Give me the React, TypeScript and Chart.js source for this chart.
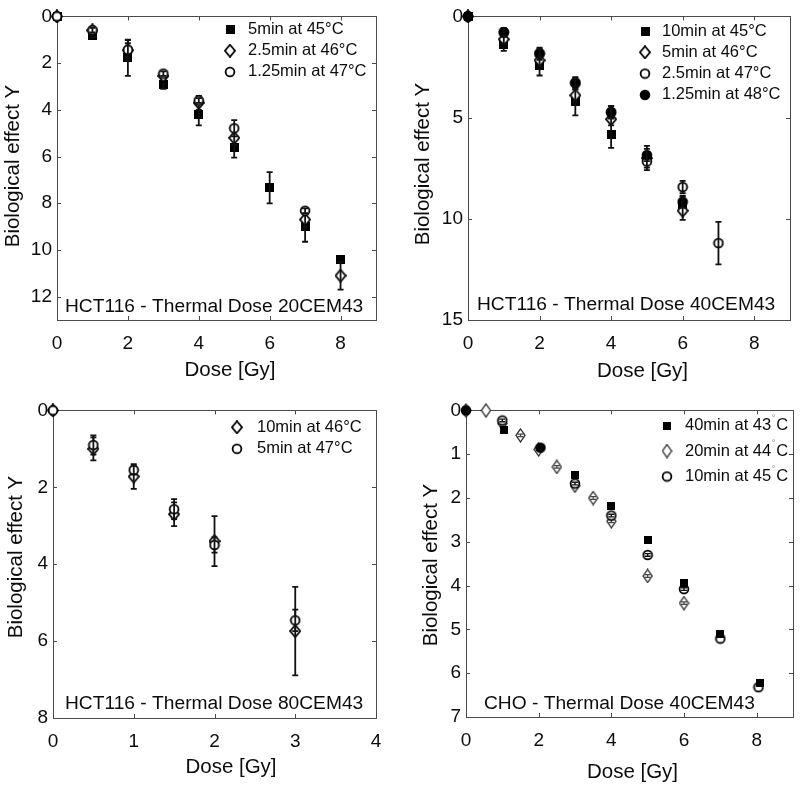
import React, { useEffect, useRef } from 'react';
import { Chart, registerables } from 'chart.js';

Chart.register(...registerables);

const FAMILY = '"Liberation Sans", Arial, Helvetica, sans-serif';
const INK = '#0c0c0c';
const FRAME = '#4a4a4a';

// ---------- Panel A: HCT116 - Thermal Dose 20CEM43 ----------
const A_X_TICKS = [0, 2, 4, 6, 8];
const A_Y_TICKS = [0, 2, 4, 6, 8, 10, 12];
const A_SQ_X = [0, 1, 2, 3, 4, 5, 6, 7, 8];
const A_SQ_Y = [0, 0.8, 1.78, 2.9, 4.2, 5.6, 7.34, 9.0, 10.4];
const A_SQ_E = [0, 0.1, 0.77, 0.2, 0.47, 0.45, 0.67, 0.65, 0];
const A_DI_X = [0, 1, 2, 3, 4, 5, 7, 8];
const A_DI_Y = [0, 0.6, 1.45, 2.55, 3.7, 5.2, 8.7, 11.1];
const A_DI_E = [0, 0, 0.3, 0, 0.3, 0.3, 0.3, 0.6];
const A_CI_X = [0, 1, 2, 3, 4, 5, 7];
const A_CI_Y = [0, 0.59, 1.43, 2.45, 3.6, 4.79, 8.32];
const A_CI_E = [0, 0.1, 0.43, 0.1, 0.1, 0.35, 0.1];

// ---------- Panel B: HCT116 - Thermal Dose 40CEM43 ----------
const B_X_TICKS = [0, 2, 4, 6, 8];
const B_Y_TICKS = [0, 5, 10, 15];
const B_SQ_X = [0, 1, 2, 3, 4, 5, 6];
const B_SQ_Y = [0, 1.4, 2.42, 4.19, 5.85, 7.0, 9.3];
const B_SQ_E = [0, 0.3, 0.5, 0.7, 0.65, 0.6, 0.4];
const B_DI_X = [0, 1, 2, 3, 4, 5, 6];
const B_DI_Y = [0, 1.13, 2.17, 3.9, 5.08, 7.0, 9.6];
const B_DI_E = [0, 0.2, 0.3, 0.3, 0.3, 0.3, 0.45];
const B_OC_X = [0, 1, 2, 3, 4, 5, 6, 7];
const B_OC_Y = [0, 0.8, 1.85, 3.3, 4.75, 7.17, 8.43, 11.2];
const B_OC_E = [0, 0.2, 0.3, 0.3, 0.3, 0.3, 0.3, 1.05];
const B_FC_X = [0, 1, 2, 3, 4, 5, 6];
const B_FC_Y = [0, 0.77, 1.82, 3.27, 4.72, 6.85, 9.16];
const B_FC_E = [0, 0.2, 0.2, 0.2, 0.3, 0.3, 0.3];

// ---------- Panel C: HCT116 - Thermal Dose 80CEM43 ----------
const C_X_TICKS = [0, 1, 2, 3, 4];
const C_Y_TICKS = [0, 2, 4, 6, 8];
const C_X = [0, 0.5, 1, 1.5, 2, 3];
const C_DI_Y = [0, 1.0, 1.72, 2.7, 3.4, 5.74];
const C_DI_E = [0, 0.3, 0.32, 0.31, 0.65, 1.15];
const C_CI_Y = [0, 0.9, 1.55, 2.57, 3.5, 5.46];
const C_CI_E = [0, 0.25, 0.12, 0.26, 0.2, 0.28];

// ---------- Panel D: CHO - Thermal Dose 40CEM43 ----------
const D_X_TICKS = [0, 2, 4, 6, 8];
const D_Y_TICKS = [0, 1, 2, 3, 4, 5, 6, 7];
const D_SQ_X = [1.05, 3.0, 4.0, 5.0, 6.0, 7.0, 8.1];
const D_SQ_Y = [0.44, 1.47, 2.19, 2.96, 3.94, 5.11, 6.23];
const D_DI_X = [0, 0.55, 1.0, 1.5, 2.0, 2.5, 3.0, 3.5, 4.0, 5.0, 6.0];
const D_DI_Y = [0, 0, 0.3, 0.57, 0.89, 1.29, 1.72, 2.0, 2.53, 3.78, 4.4];
const D_DI_E = [0, 0, 0.03, 0.03, 0.03, 0.03, 0.03, 0.03, 0.03, 0.03, 0.03];
const D_CI_X = [0, 1, 2.05, 3, 4, 5, 6, 7, 8.05];
const D_CI_Y = [0, 0.23, 0.85, 1.67, 2.4, 3.3, 4.08, 5.21, 6.32];
const D_CI_E = [0, 0.03, 0, 0.03, 0.03, 0.03, 0.03, 0, 0];
const D_CI_STYLE = ['fc', 'oc', 'fc', 'oc', 'oc', 'oc', 'oc', 'oc', 'oc'];

type Series = {
  label: string;
  marker: string;
  xs: number[];
  ys: number[];
  errs?: number[];
  errColor?: string;
  errWidth?: number;
  styles?: string[];
};

type Panel = {
  px: number;
  py: number;
  area: { l: number; r: number; t: number; b: number };
  xMax: number;
  yMax: number;
  xTicks: number[];
  yTicks: number[];
  series: Series[];
  legendOrder: number[];
  note: string;
  noteX: number;
  noteY: number;
  legend: { mx: number; tx: number; y0: number; dy: number; sup?: boolean };
  yTitle: { x: number; y: number };
  xTitle: { x: number; y: number };
};

const PANELS: Panel[] = [
  {
    px: 0, py: 0,
    area: { l: 57, r: 376, t: 11, b: 320 },
    xMax: 9, yMax: 13, xTicks: A_X_TICKS, yTicks: A_Y_TICKS,
    series: [
      { label: '5min at 45°C', marker: 'sq', xs: A_SQ_X, ys: A_SQ_Y, errs: A_SQ_E },
      { label: '2.5min at 46°C', marker: 'di', xs: A_DI_X, ys: A_DI_Y, errs: A_DI_E },
      { label: '1.25min at 47°C', marker: 'oc', xs: A_CI_X, ys: A_CI_Y, errs: A_CI_E },
    ],
    legendOrder: [0, 1, 2],
    note: 'HCT116 - Thermal Dose 20CEM43', noteX: 65, noteY: 311.5,
    legend: { mx: 230, tx: 248, y0: 29.5, dy: 21.2 },
    yTitle: { x: 13.5, y: 166 }, xTitle: { x: 230, y: 370 },
  },
  {
    px: 400, py: 0,
    area: { l: 68, r: 390, t: 10, b: 320 },
    xMax: 9, yMax: 15, xTicks: B_X_TICKS, yTicks: B_Y_TICKS,
    series: [
      { label: '10min at 45°C', marker: 'sq', xs: B_SQ_X, ys: B_SQ_Y, errs: B_SQ_E },
      { label: '5min at 46°C', marker: 'di', xs: B_DI_X, ys: B_DI_Y, errs: B_DI_E },
      { label: '2.5min at 47°C', marker: 'oc', xs: B_OC_X, ys: B_OC_Y, errs: B_OC_E },
      { label: '1.25min at 48°C', marker: 'fc', xs: B_FC_X, ys: B_FC_Y, errs: B_FC_E },
    ],
    legendOrder: [0, 1, 2, 3],
    note: 'HCT116 - Thermal Dose 40CEM43', noteX: 77, noteY: 310,
    legend: { mx: 245, tx: 262, y0: 31, dy: 21.3 },
    yTitle: { x: 23.5, y: 164 }, xTitle: { x: 242.5, y: 371.5 },
  },
  {
    px: 0, py: 394,
    area: { l: 53, r: 376, t: 14, b: 324 },
    xMax: 4, yMax: 8, xTicks: C_X_TICKS, yTicks: C_Y_TICKS,
    series: [
      { label: '10min at 46°C', marker: 'di', xs: C_X, ys: C_DI_Y, errs: C_DI_E },
      { label: '5min at 47°C', marker: 'oc', xs: C_X, ys: C_CI_Y, errs: C_CI_E },
    ],
    legendOrder: [0, 1],
    note: 'HCT116 - Thermal Dose 80CEM43', noteX: 65, noteY: 315,
    legend: { mx: 237, tx: 257, y0: 33.3, dy: 21.5 },
    yTitle: { x: 16.7, y: 163 }, xTitle: { x: 231, y: 373.5 },
  },
  {
    px: 400, py: 394,
    area: { l: 66, r: 396, t: 14, b: 323 },
    xMax: 9, yMax: 7, xTicks: D_X_TICKS, yTicks: D_Y_TICKS,
    series: [
      { label: '20min at 44°C', marker: 'di4', xs: D_DI_X, ys: D_DI_Y, errs: D_DI_E, errColor: '#444', errWidth: 1.2 },
      { label: '10min at 45°C', marker: 'oc', xs: D_CI_X, ys: D_CI_Y, errs: D_CI_E, styles: D_CI_STYLE, errWidth: 1.4 },
      { label: '40min at 43°C', marker: 'sq4', xs: D_SQ_X, ys: D_SQ_Y },
    ],
    legendOrder: [2, 0, 1],
    note: 'CHO - Thermal Dose 40CEM43', noteX: 84, noteY: 315,
    legend: { mx: 267, tx: 285, y0: 31.5, dy: 25.5, sup: true },
    yTitle: { x: 31, y: 171 }, xTitle: { x: 232.5, y: 378 },
  },
];

const markerCache: Record<string, HTMLCanvasElement> = {};

function makeMarker(kind: string): HTMLCanvasElement {
  if (markerCache[kind]) return markerCache[kind];
  const c = document.createElement('canvas');
  const ctx = c.getContext('2d')!;
  const setSize = (w: number, h: number) => { c.width = w; c.height = h; };
  if (kind === 'sq' || kind === 'sq4') {
    const s = kind === 'sq' ? 9 : 8;
    setSize(s, s);
    ctx.fillStyle = '#000';
    ctx.fillRect(0, 0, s, s);
  } else if (kind === 'di' || kind === 'di4') {
    const w = kind === 'di' ? 10 : 9;
    const h = kind === 'di' ? 12 : 13;
    setSize(w + 2, h + 2);
    ctx.beginPath();
    ctx.moveTo(1 + w / 2, 1);
    ctx.lineTo(1 + w, 1 + h / 2);
    ctx.lineTo(1 + w / 2, 1 + h);
    ctx.lineTo(1, 1 + h / 2);
    ctx.closePath();
    ctx.fillStyle = '#fff';
    ctx.fill();
    ctx.lineWidth = kind === 'di' ? 1.8 : 1.3;
    ctx.strokeStyle = kind === 'di' ? '#000' : '#222';
    ctx.stroke();
  } else if (kind === 'oc') {
    setSize(12, 12);
    ctx.beginPath();
    ctx.arc(6, 6, 4.4, 0, Math.PI * 2);
    ctx.fillStyle = '#fff';
    ctx.fill();
    ctx.lineWidth = 1.8;
    ctx.strokeStyle = '#000';
    ctx.stroke();
  } else {
    setSize(12, 12);
    ctx.beginPath();
    ctx.arc(6, 6, 5.3, 0, Math.PI * 2);
    ctx.fillStyle = '#000';
    ctx.fill();
  }
  markerCache[kind] = c;
  return c;
}

function buildChart(canvas: HTMLCanvasElement, p: Panel): Chart {
  const n = p.series.length;
  const datasets = p.series.map((s, i) => ({
    label: s.label,
    data: s.xs.map((x, j) => ({ x, y: s.ys[j] })),
    showLine: false,
    clip: false as any,
    order: n - i,
    pointStyle: s.styles ? s.styles.map((k) => makeMarker(k)) : makeMarker(s.marker),
    pointRadius: 6,
    pointHoverRadius: 6,
  }));

  const framePlugin = {
    id: 'frame' + p.px + p.py,
    beforeDatasetsDraw(chart: any) {
      const { ctx, chartArea: a, scales } = chart;
      ctx.save();
      ctx.strokeStyle = FRAME;
      ctx.lineWidth = 1;
      ctx.strokeRect(Math.round(a.left) + 0.5, Math.round(a.top) + 0.5, Math.round(a.right - a.left), Math.round(a.bottom - a.top));
      const tl = 4;
      ctx.beginPath();
      p.xTicks.forEach((v) => {
        const x = Math.round(scales.x.getPixelForValue(v)) + 0.5;
        if (x <= a.left + 1 || x >= a.right - 1) return;
        ctx.moveTo(x, a.top); ctx.lineTo(x, a.top + tl);
        ctx.moveTo(x, a.bottom); ctx.lineTo(x, a.bottom - tl);
      });
      p.yTicks.forEach((v) => {
        const y = Math.round(scales.y.getPixelForValue(v)) + 0.5;
        if (y <= a.top + 1 || y >= a.bottom - 1) return;
        ctx.moveTo(a.left, y); ctx.lineTo(a.left + tl, y);
        ctx.moveTo(a.right, y); ctx.lineTo(a.right - tl, y);
      });
      ctx.stroke();
      ctx.restore();
    },
    afterDatasetDraw(chart: any, args: any) {
      const s = p.series[args.index];
      if (!s || !s.errs) return;
      const { ctx, scales } = chart;
      ctx.save();
      ctx.strokeStyle = s.errColor || '#111';
      ctx.lineWidth = s.errWidth || 1.8;
      ctx.beginPath();
      s.errs.forEach((e, j) => {
        if (!(e > 0)) return;
        const x = scales.x.getPixelForValue(s.xs[j]);
        const y1 = scales.y.getPixelForValue(s.ys[j] - e);
        const y2 = scales.y.getPixelForValue(s.ys[j] + e);
        ctx.moveTo(x, y1); ctx.lineTo(x, y2);
        ctx.moveTo(x - 3, y1); ctx.lineTo(x + 3, y1);
        ctx.moveTo(x - 3, y2); ctx.lineTo(x + 3, y2);
      });
      ctx.stroke();
      ctx.restore();
    },
    afterDraw(chart: any) {
      const { ctx } = chart;
      ctx.save();
      ctx.fillStyle = INK;
      // annotation
      ctx.font = `19.2px ${FAMILY}`;
      ctx.textAlign = 'left';
      ctx.textBaseline = 'alphabetic';
      ctx.fillText(p.note, p.noteX, p.noteY);
      // legend
      p.legendOrder.forEach((si, r) => {
        const s = p.series[si];
        const y = p.legend.y0 + r * p.legend.dy;
        const img = makeMarker(s.marker);
        ctx.drawImage(img, p.legend.mx - img.width / 2, y - img.height / 2);
        ctx.font = `16.5px ${FAMILY}`;
        ctx.textBaseline = 'middle';
        ctx.fillStyle = INK;
        if (p.legend.sup) {
          const parts = s.label.split('°');
          ctx.fillText(parts[0], p.legend.tx, y);
          let x = p.legend.tx + ctx.measureText(parts[0]).width;
          ctx.font = `9px ${FAMILY}`;
          ctx.fillStyle = '#888';
          ctx.fillText('°', x + 0.5, y - 7);
          x += 5;
          ctx.font = `16.5px ${FAMILY}`;
          ctx.fillStyle = INK;
          ctx.fillText(parts[1], x, y);
        } else {
          ctx.fillText(s.label, p.legend.tx, y);
        }
      });
      // axis titles
      ctx.font = `20.5px ${FAMILY}`;
      ctx.textAlign = 'center';
      ctx.textBaseline = 'middle';
      ctx.fillText('Dose [Gy]', p.xTitle.x, p.xTitle.y);
      ctx.translate(p.yTitle.x, p.yTitle.y);
      ctx.rotate(-Math.PI / 2);
      ctx.fillText('Biological effect Y', 0, 0);
      ctx.restore();
    },
  };

  return new Chart(canvas, {
    type: 'scatter',
    data: { datasets: datasets as any },
    options: {
      responsive: false,
      animation: false,
      events: [],
      layout: { padding: { left: 0, top: p.area.t, right: 400 - p.area.r, bottom: 0 } },
      plugins: { legend: { display: false }, tooltip: { enabled: false }, title: { display: false } },
      scales: {
        x: {
          type: 'linear',
          min: 0,
          max: p.xMax,
          afterBuildTicks: (s: any) => { s.ticks = p.xTicks.map((v) => ({ value: v })); },
          afterFit: (s: any) => { s.height = 394 - p.area.b; },
          grid: { display: false, drawTicks: false },
          border: { display: false },
          ticks: { padding: 12, color: INK, font: { family: FAMILY, size: 19 }, maxRotation: 0, autoSkip: false },
        },
        y: {
          type: 'linear',
          reverse: true,
          min: 0,
          max: p.yMax,
          afterBuildTicks: (s: any) => { s.ticks = p.yTicks.map((v) => ({ value: v })); },
          afterFit: (s: any) => { s.width = p.area.l; },
          grid: { display: false, drawTicks: false },
          border: { display: false },
          ticks: { padding: 5, color: INK, font: { family: FAMILY, size: 19 }, autoSkip: false },
        },
      },
    },
    plugins: [framePlugin as any],
  });
}

function PanelChart({ panel }: { panel: Panel }) {
  const ref = useRef<HTMLCanvasElement>(null);
  useEffect(() => {
    const chart = buildChart(ref.current!, panel);
    return () => chart.destroy();
  }, [panel]);
  return (
    <canvas
      ref={ref}
      width={400}
      height={394}
      style={{ position: 'absolute', left: panel.px, top: panel.py, width: 400, height: 394 }}
    />
  );
}

export default function App() {
  return (
    <div style={{ position: 'absolute', left: 0, top: 0, width: 800, height: 788, background: '#fff' }}>
      {PANELS.map((p, i) => (
        <PanelChart key={i} panel={p} />
      ))}
    </div>
  );
}
